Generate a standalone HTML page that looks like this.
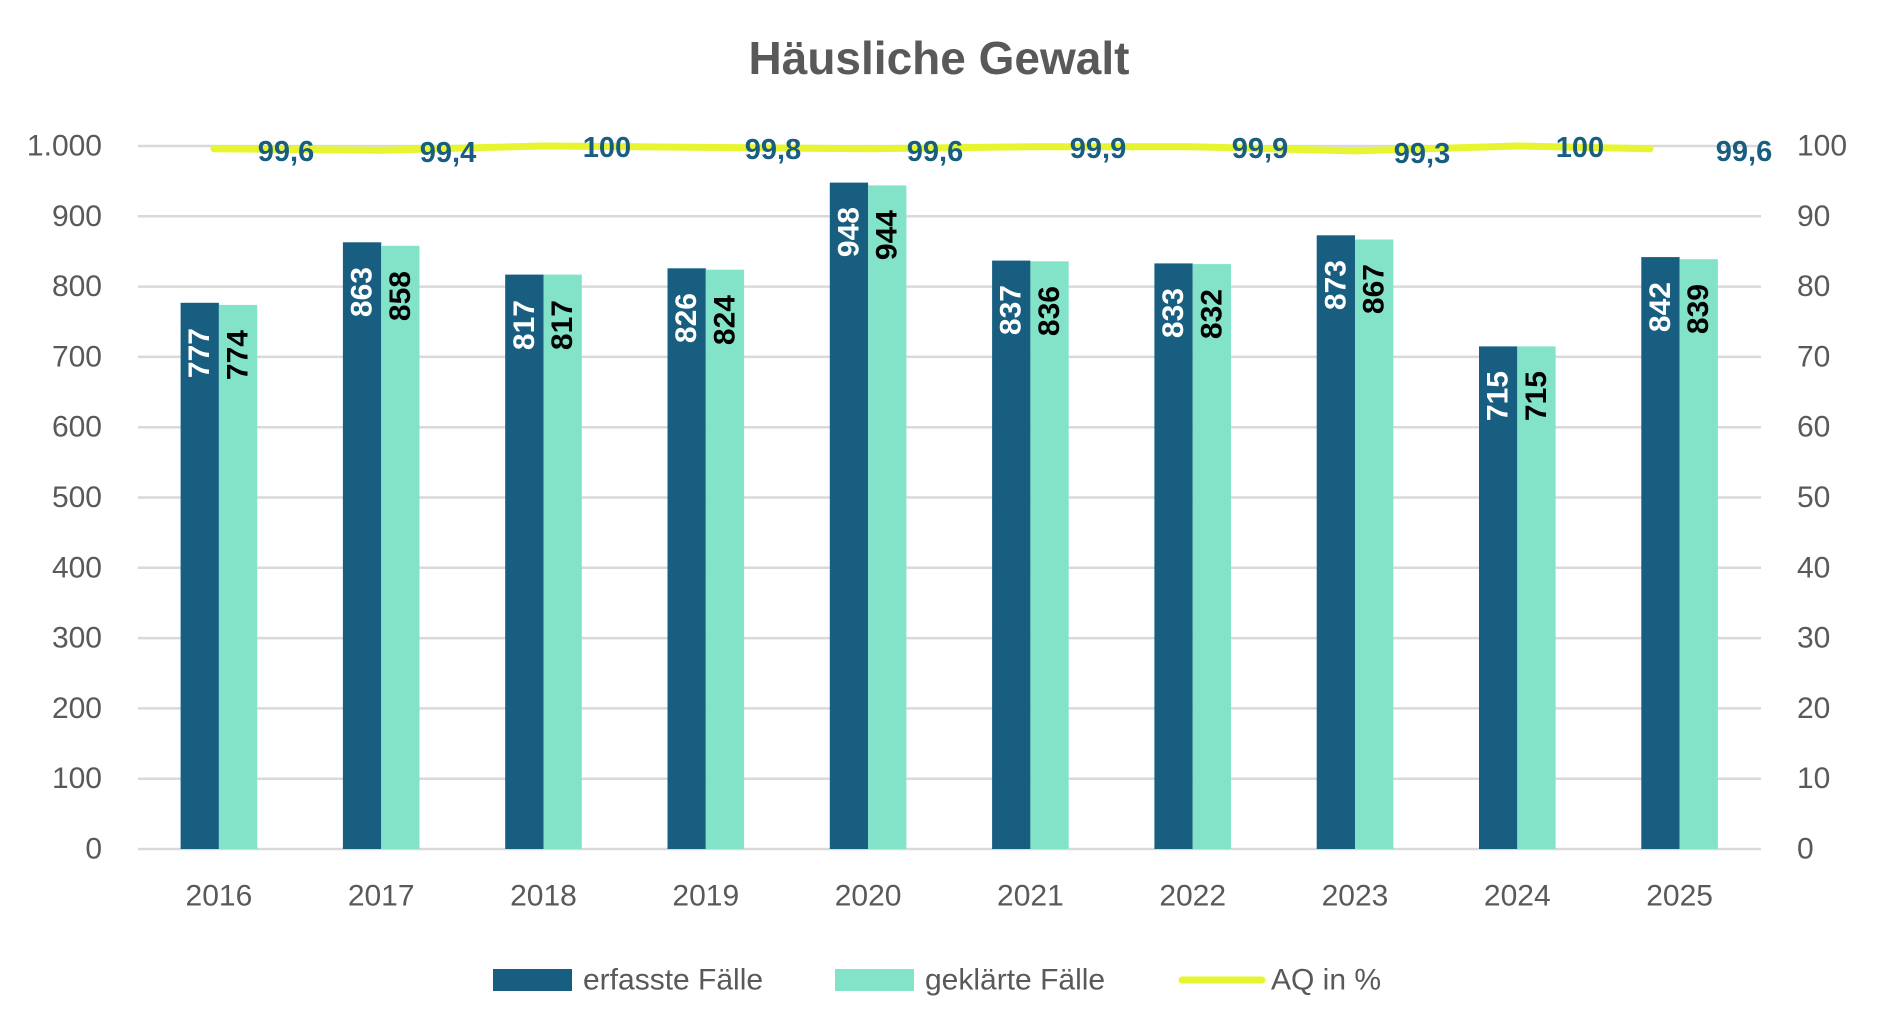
<!DOCTYPE html>
<html><head><meta charset="utf-8"><style>
html,body{margin:0;padding:0;background:#fff;}
svg{display:block;font-family:"Liberation Sans",sans-serif;}
</style></head><body>
<svg width="1878" height="1032" viewBox="0 0 1878 1032">
<rect width="1878" height="1032" fill="#fff"/>
<text x="939" y="74" text-anchor="middle" font-size="46" font-weight="bold" fill="#595959">Häusliche Gewalt</text>
<g stroke="#d9d9d9" stroke-width="2.5">
<line x1="138" x2="1761" y1="146" y2="146"/><line x1="138" x2="1761" y1="216.3" y2="216.3"/>
<line x1="138" x2="1761" y1="286.6" y2="286.6"/><line x1="138" x2="1761" y1="356.9" y2="356.9"/>
<line x1="138" x2="1761" y1="427.2" y2="427.2"/><line x1="138" x2="1761" y1="497.5" y2="497.5"/>
<line x1="138" x2="1761" y1="567.8" y2="567.8"/><line x1="138" x2="1761" y1="638.1" y2="638.1"/>
<line x1="138" x2="1761" y1="708.4" y2="708.4"/><line x1="138" x2="1761" y1="778.7" y2="778.7"/>
<line x1="138" x2="1761" y1="849" y2="849"/>
</g>
<g font-size="30" fill="#595959" text-anchor="end" dominant-baseline="central">
<text x="102" y="146">1.000</text><text x="102" y="216.3">900</text><text x="102" y="286.6">800</text>
<text x="102" y="356.9">700</text><text x="102" y="427.2">600</text><text x="102" y="497.5">500</text>
<text x="102" y="567.8">400</text><text x="102" y="638.1">300</text><text x="102" y="708.4">200</text>
<text x="102" y="778.7">100</text><text x="102" y="849">0</text>
</g>
<g font-size="30" fill="#595959" text-anchor="start" dominant-baseline="central">
<text x="1797" y="146">100</text><text x="1797" y="216.3">90</text><text x="1797" y="286.6">80</text>
<text x="1797" y="356.9">70</text><text x="1797" y="427.2">60</text><text x="1797" y="497.5">50</text>
<text x="1797" y="567.8">40</text><text x="1797" y="638.1">30</text><text x="1797" y="708.4">20</text>
<text x="1797" y="778.7">10</text><text x="1797" y="849">0</text>
</g>
<g fill="#175e80">
<rect x="180.6" y="302.8" width="38.3" height="546.2"/>
<rect x="342.9" y="242.3" width="38.3" height="606.7"/>
<rect x="505.2" y="274.6" width="38.3" height="574.4"/>
<rect x="667.5" y="268.3" width="38.3" height="580.7"/>
<rect x="829.8" y="182.6" width="38.3" height="666.4"/>
<rect x="992.1" y="260.6" width="38.3" height="588.4"/>
<rect x="1154.4" y="263.4" width="38.3" height="585.6"/>
<rect x="1316.7" y="235.3" width="38.3" height="613.7"/>
<rect x="1479.0" y="346.4" width="38.3" height="502.6"/>
<rect x="1641.3" y="257.1" width="38.3" height="591.9"/>
</g>
<g fill="#82e3c9">
<rect x="218.9" y="304.9" width="38.3" height="544.1"/>
<rect x="381.2" y="245.8" width="38.3" height="603.2"/>
<rect x="543.5" y="274.6" width="38.3" height="574.4"/>
<rect x="705.8" y="269.7" width="38.3" height="579.3"/>
<rect x="868.1" y="185.4" width="38.3" height="663.6"/>
<rect x="1030.4" y="261.3" width="38.3" height="587.7"/>
<rect x="1192.7" y="264.1" width="38.3" height="584.9"/>
<rect x="1355.0" y="239.5" width="38.3" height="609.5"/>
<rect x="1517.3" y="346.4" width="38.3" height="502.6"/>
<rect x="1679.6" y="259.2" width="38.3" height="589.8"/>
</g>
<g font-size="30" font-weight="bold" fill="#fff" text-anchor="end" dominant-baseline="central">
<text transform="translate(199.7,328) rotate(-90)">777</text>
<text transform="translate(362,267) rotate(-90)">863</text>
<text transform="translate(524.3,300) rotate(-90)">817</text>
<text transform="translate(686.6,293) rotate(-90)">826</text>
<text transform="translate(848.9,207) rotate(-90)">948</text>
<text transform="translate(1011.2,285) rotate(-90)">837</text>
<text transform="translate(1173.5,288) rotate(-90)">833</text>
<text transform="translate(1335.8,260) rotate(-90)">873</text>
<text transform="translate(1498.1,371) rotate(-90)">715</text>
<text transform="translate(1660.4,282) rotate(-90)">842</text>
</g>
<g font-size="30" font-weight="bold" fill="#000" text-anchor="end" dominant-baseline="central">
<text transform="translate(238,330) rotate(-90)">774</text>
<text transform="translate(400.3,271) rotate(-90)">858</text>
<text transform="translate(562.6,300) rotate(-90)">817</text>
<text transform="translate(724.9,295) rotate(-90)">824</text>
<text transform="translate(887.2,210) rotate(-90)">944</text>
<text transform="translate(1049.5,286) rotate(-90)">836</text>
<text transform="translate(1211.8,289) rotate(-90)">832</text>
<text transform="translate(1374.1,264) rotate(-90)">867</text>
<text transform="translate(1536.4,371) rotate(-90)">715</text>
<text transform="translate(1698.7,284) rotate(-90)">839</text>
</g>
<polyline fill="none" stroke="#e6f52f" stroke-width="7" stroke-linecap="round" points="214,148.8 381.2,150.2 543.5,146 705.8,147.4 868.1,148.8 1030.4,146.7 1192.7,146.7 1355,150.9 1517.3,146 1650,148.8"/>
<g font-size="29" font-weight="bold" fill="#175e80" text-anchor="middle" dominant-baseline="central">
<text x="286" y="152">99,6</text><text x="448" y="153">99,4</text><text x="607" y="148">100</text>
<text x="773" y="150">99,8</text><text x="935" y="152">99,6</text><text x="1098" y="149">99,9</text>
<text x="1260" y="149">99,9</text><text x="1422" y="154">99,3</text><text x="1580" y="148">100</text>
<text x="1744" y="152">99,6</text>
</g>
<g font-size="30" fill="#595959" text-anchor="middle" dominant-baseline="central">
<text x="218.9" y="896">2016</text><text x="381.2" y="896">2017</text><text x="543.5" y="896">2018</text>
<text x="705.8" y="896">2019</text><text x="868.1" y="896">2020</text><text x="1030.4" y="896">2021</text>
<text x="1192.7" y="896">2022</text><text x="1355" y="896">2023</text><text x="1517.3" y="896">2024</text>
<text x="1679.6" y="896">2025</text>
</g>
<rect x="493" y="969" width="79" height="22" fill="#175e80"/>
<rect x="835" y="969" width="79" height="22" fill="#82e3c9"/>
<line x1="1182" x2="1262" y1="980" y2="980" stroke="#e6f52f" stroke-width="7" stroke-linecap="round"/>
<g font-size="30" fill="#595959" dominant-baseline="central">
<text x="583" y="980">erfasste Fälle</text>
<text x="925" y="980">geklärte Fälle</text>
<text x="1271" y="980">AQ in %</text>
</g>
</svg>
</body></html>
